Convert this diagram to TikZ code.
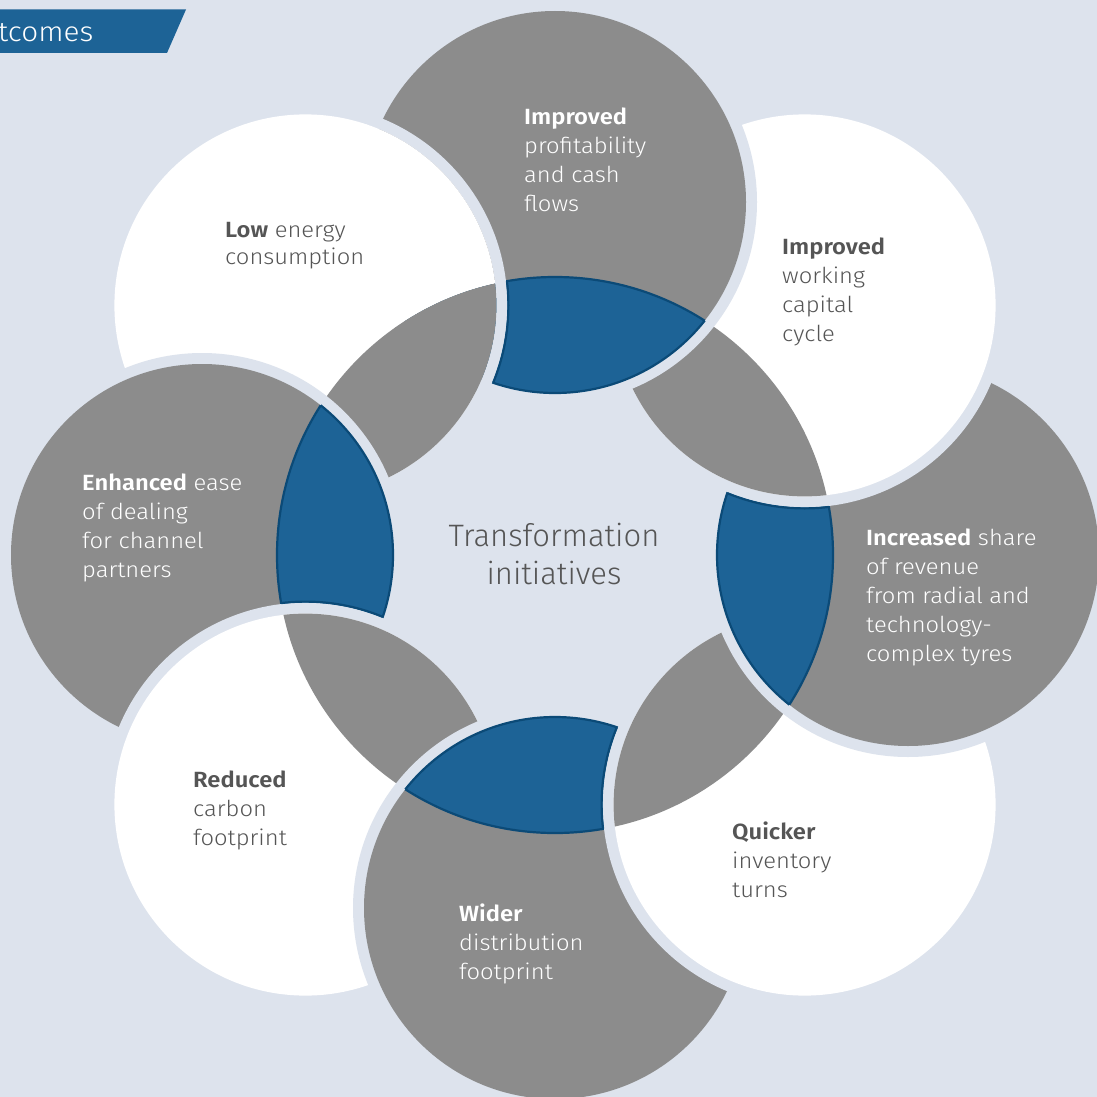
\documentclass[tikz,border=0pt]{standalone}
\usepackage{fontspec}
\setmainfont{Fira Sans}[UprightFont={* Light},BoldFont={* SemiBold},FakeStretch=1.08]
\newfontfamily\ctrfont{Fira Sans Light}
\definecolor{bgc}{HTML}{DDE3ED}
\definecolor{greyc}{HTML}{8C8C8C}
\definecolor{bluec}{HTML}{1D6396}
\definecolor{bluestk}{HTML}{0B4A77}
\definecolor{txtc}{HTML}{555555}
\newcommand\ringcirc[3]{%
  \fill[bgc] (#1) circle (202pt);
  \fill[#2] (#1) circle (191pt);
  \begin{scope}\clip (#1) circle (191pt); \fill[#3] (O) circle (278pt);\end{scope}}
\newcommand\lensstroke[1]{%
  \begin{scope}\clip (#1) circle (191pt); \draw[lensline] (O) circle (278pt);\end{scope}
  \begin{scope}\clip (O) circle (278pt); \draw[lensline] (#1) circle (191pt);\end{scope}}
\newcommand\coverstroke[2]{%
  \begin{scope}\clip (#1) circle (191pt); \clip (O) circle (278pt);
  \draw[lensline] (#2) circle (203pt);\end{scope}}
\tikzset{
  lensline/.style={draw=bluestk,line width=2.2pt},
  lbl/.style={anchor=north west,inner sep=0pt,align=left,font=\fontsize{22}{29}\selectfont},
  onwhite/.style={lbl,text=txtc},
  ongrey/.style={lbl,text=white}
}
\begin{document}
\begin{tikzpicture}[x=1pt,y=-1pt]
\fill[bgc] (0,0) rectangle (1097,1097);
\useasboundingbox (0,0) rectangle (1097,1097);
\coordinate (O) at (555,555);
\coordinate (cT) at (555,202);
\coordinate (cUR) at (804.6,305.4);
\coordinate (cR) at (908,555);
\coordinate (cLR) at (804.6,804.6);
\coordinate (cB) at (555,908);
\coordinate (cLL) at (305.4,804.6);
\coordinate (cL) at (202,555);
\coordinate (cUL) at (305.4,305.4);
% tab
\fill[bluec] (0,9.5) -- (186,9.5) -- (167,53) -- (0,53) -- cycle;
\node[anchor=base west,inner sep=0pt,text=white,font=\fontsize{27.5}{32}\selectfont] (tab) at (-2,42) {tcomes};
% circles, cyclic stacking
\ringcirc{cUL}{white}{greyc}
\ringcirc{cL}{greyc}{bluec}\lensstroke{cL}
\ringcirc{cLL}{white}{greyc}
\ringcirc{cB}{greyc}{bluec}\lensstroke{cB}
\ringcirc{cLR}{white}{greyc}
\ringcirc{cR}{greyc}{bluec}\lensstroke{cR}
\ringcirc{cUR}{white}{greyc}
\ringcirc{cT}{greyc}{bluec}\lensstroke{cT}
% bring the upper-left circle back over the top circle (non-overlapping fills, no seam)
\begin{scope}
\clip (cT) circle (205pt);
\fill[bgc,even odd rule] (cUL) circle (202pt) (cUL) circle (191pt);
\begin{scope}
\clip (cUL) circle (191pt);
\fill[white,even odd rule] (-100,-100) rectangle (1200,1200) (O) circle (278pt);
\fill[greyc] (O) circle (278pt);
\end{scope}
\end{scope}
\coverstroke{cT}{cUL}
\coverstroke{cR}{cUR}
\coverstroke{cB}{cLR}
\coverstroke{cL}{cLL}
% texts
\node[ongrey] (tT) at (524,108) {\textbf{Improved}\\profitability\\and cash\\flows};
\node[onwhite] (tUR) at (782,238) {\textbf{Improved}\\working\\capital\\cycle};
\node[ongrey] (tR) at (866,529) {\textbf{Increased} share\\of revenue\\from radial and\\technology-\\complex tyres};
\node[onwhite] (tLR) at (732,822) {\textbf{Quicker}\\inventory\\turns};
\node[ongrey] (tB) at (459,904) {\textbf{Wider}\\distribution\\footprint};
\node[onwhite] (tLL) at (193,771) {\textbf{Reduced}\\carbon\\footprint};
\node[ongrey] (tL) at (82,474) {\textbf{Enhanced} ease\\of dealing\\for channel\\partners};
\node[onwhite,font=\fontsize{22}{27.5}\selectfont] (tUL) at (225,222) {\textbf{Low} energy\\consumption};
\node[anchor=north,inner sep=0pt,align=center,text=txtc,font=\ctrfont\fontsize{31}{38}\selectfont] (ctr) at (554,523) {Transformation\\initiatives};
\end{tikzpicture}
\end{document}
